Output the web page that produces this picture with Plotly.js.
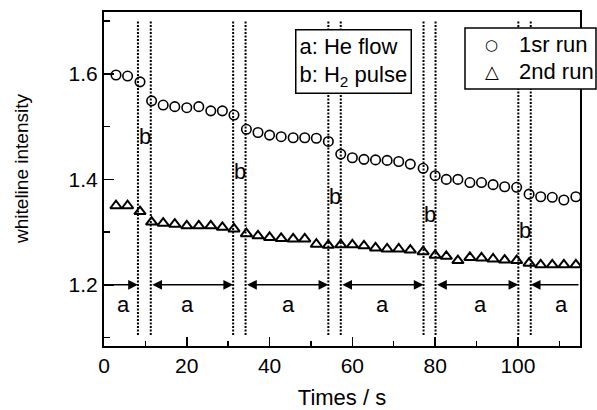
<!DOCTYPE html>
<html>
<head>
<meta charset="utf-8">
<script src="https://cdn.plot.ly/plotly-3.0.1.min.js"></script>
<style>html,body{margin:0;padding:0;background:#fff;}#chart{width:597px;height:410px;}</style>
</head>
<body>
<div id="chart"></div>
<script>
const times = [2.9, 5.7, 8.7, 11.5, 14.3, 17.1, 20.0, 22.9, 25.8, 28.6, 31.4, 34.4, 37.2, 40.0, 42.8, 45.7, 48.5, 51.3, 54.2, 57.2, 60.0, 62.8, 65.6, 68.4, 71.2, 74.0, 77.1, 80.0, 82.7, 85.5, 88.4, 91.2, 94.0, 96.8, 99.7, 102.7, 105.5, 108.3, 111.1, 114.0];
const run1 = [1.598, 1.596, 1.585, 1.549, 1.541, 1.538, 1.536, 1.538, 1.530, 1.530, 1.522, 1.495, 1.489, 1.484, 1.481, 1.479, 1.479, 1.478, 1.472, 1.448, 1.441, 1.438, 1.437, 1.436, 1.434, 1.429, 1.421, 1.407, 1.400, 1.400, 1.394, 1.394, 1.390, 1.386, 1.385, 1.372, 1.367, 1.366, 1.361, 1.367];
const run2 = [1.350, 1.350, 1.339, 1.319, 1.317, 1.315, 1.312, 1.312, 1.312, 1.309, 1.306, 1.297, 1.293, 1.290, 1.288, 1.287, 1.287, 1.277, 1.275, 1.276, 1.276, 1.274, 1.270, 1.268, 1.268, 1.266, 1.263, 1.256, 1.254, 1.246, 1.252, 1.251, 1.249, 1.247, 1.246, 1.241, 1.238, 1.238, 1.238, 1.238];
const seriesNames = ["1sr run", "2nd run"];
const legendGlyphs = ["\u25CB", "\u25B3"];
const pulseStart = [8.2, 31.2, 54.2, 77.2, 100.1];
const pulseEnd = [11.3, 34.2, 57.2, 80.1, 103.1];
const bLabelY = [1.481, 1.415, 1.367, 1.333, 1.304];
const aLabelX = [4.8, 20.2, 44.6, 67.2, 91.0, 110.6];
const aLabelY = 1.162;
const arrowY = 1.2;
const lineYRange = [1.105, 1.702];
const xRange = [0, 115];
const yRange = [1.084, 1.7175];

const FONT = 'Arial, "Liberation Sans", Helvetica, sans-serif';

const traces = [
  {x: times, y: run1, name: seriesNames[0], type: 'scatter', mode: 'markers', showlegend: false,
   marker: {symbol: 'circle-open', size: 9.5, color: '#000', line: {width: 1.6, color: '#000'}}},
  {x: times, y: run2, name: seriesNames[1], type: 'scatter', mode: 'markers', showlegend: false,
   marker: {symbol: 'triangle-up-open', size: 10, color: '#000', line: {width: 2, color: '#000'}}}
];

const shapes = [];
pulseStart.concat(pulseEnd).forEach(function (xv) {
  shapes.push({type: 'line', xref: 'x', yref: 'y', x0: xv, x1: xv, y0: lineYRange[0], y1: lineYRange[1],
    line: {color: '#000', width: 2, dash: '2px,1.5px'}});
});
// series key box (drawn over the dotted lines and the right axis line)
shapes.push({type: 'rect', xref: 'paper', yref: 'paper', x0: 0.7584, x1: 1.0336, y0: 0.7695, y1: 0.9521,
  fillcolor: '#fff', line: {color: '#000', width: 1.5}, layer: 'above'});

const annotations = [];
pulseStart.forEach(function (s, i) {
  annotations.push({x: (s + pulseEnd[i]) / 2 + 0.15, y: bLabelY[i], xref: 'x', yref: 'y', text: 'b', showarrow: false,
    font: {family: FONT, size: 22, color: '#000'}});
});
aLabelX.forEach(function (xv) {
  annotations.push({x: xv, y: aLabelY, xref: 'x', yref: 'y', text: 'a', showarrow: false,
    font: {family: FONT, size: 22, color: '#000'}});
});
const bounds = [xRange[0]].concat(...pulseStart.map(function (s, i) { return [s, pulseEnd[i]]; })).concat([xRange[1]]);
for (let k = 0; k < bounds.length; k += 2) {
  const left = bounds[k], right = bounds[k + 1];
  let head, tail, side;
  if (k === 0) { head = right; tail = left; side = 'end'; }
  else if (k === bounds.length - 2) { head = left; tail = right; side = 'end'; }
  else { head = right; tail = left; side = 'end+start'; }
  annotations.push({x: head, y: arrowY, ax: tail, ay: arrowY, xref: 'x', yref: 'y', axref: 'x', ayref: 'y',
    text: '', showarrow: true, arrowhead: 2, arrowside: side, arrowsize: 1.3, arrowwidth: 1.5, arrowcolor: '#000', standoff: 0, startstandoff: 0});
}
// condition key box
annotations.push({xref: 'paper', yref: 'paper', x: 0.4013, y: 0.9505, xanchor: 'left', yanchor: 'top',
  text: 'a: He flow<br>b: H<sub>2</sub> pulse', align: 'left', showarrow: false,
  font: {family: FONT, size: 22, color: '#000'}, bgcolor: '#fff', bordercolor: '#000', borderwidth: 1.5, borderpad: 3});
// series key entries
const keyY = [0.9012, 0.8204];
const glyphSize = [15, 18];
seriesNames.forEach(function (nm, i) {
  annotations.push({xref: 'paper', yref: 'paper', x: 0.8151, y: keyY[i], xanchor: 'center', yanchor: 'middle',
    text: legendGlyphs[i], showarrow: false, font: {family: '"DejaVu Sans", sans-serif', size: glyphSize[i], color: '#000'}});
  annotations.push({xref: 'paper', yref: 'paper', x: 0.8676, y: keyY[i], xanchor: 'left', yanchor: 'middle',
    text: nm, showarrow: false, font: {family: FONT, size: 22, color: '#000'}});
});
// y-axis title
annotations.push({xref: 'paper', yref: 'paper', x: -0.1723, y: 0.53, xanchor: 'center', yanchor: 'middle',
  text: 'whiteline intensity', textangle: -90, showarrow: false, font: {family: FONT, size: 19, color: '#000'}});

const layout = {
  width: 597, height: 410,
  margin: {l: 104, r: 17, t: 12, b: 64},
  paper_bgcolor: '#fff', plot_bgcolor: '#fff',
  font: {family: FONT, size: 20, color: '#000'},
  showlegend: false,
  xaxis: {range: xRange, showgrid: false, zeroline: false, showline: true, linecolor: '#000', linewidth: 2, mirror: true,
    ticks: 'inside', ticklen: 9, tickwidth: 1.5, tickcolor: '#000', tick0: 0, dtick: 20,
    minor: {ticks: 'inside', ticklen: 5, tickwidth: 1.5, tickcolor: '#000', dtick: 10, showgrid: false},
    tickfont: {family: FONT, size: 21, color: '#000'},
    title: {text: 'Times / s', font: {family: FONT, size: 22, color: '#000'}, standoff: 15}},
  yaxis: {range: yRange, showgrid: false, zeroline: false, showline: true, linecolor: '#000', linewidth: 2, mirror: true,
    ticks: 'inside', ticklen: 10, tickwidth: 1.5, tickcolor: '#000', tick0: 1.2, dtick: 0.2, tickformat: '.1f',
    minor: {ticks: 'inside', ticklen: 6, tickwidth: 1.5, tickcolor: '#000', dtick: 0.1, tick0: 1.1, showgrid: false},
    tickfont: {family: FONT, size: 21, color: '#000'}},
  shapes: shapes,
  annotations: annotations
};

Plotly.newPlot('chart', traces, layout, {displayModeBar: false, staticPlot: true});
</script>
</body>
</html>
